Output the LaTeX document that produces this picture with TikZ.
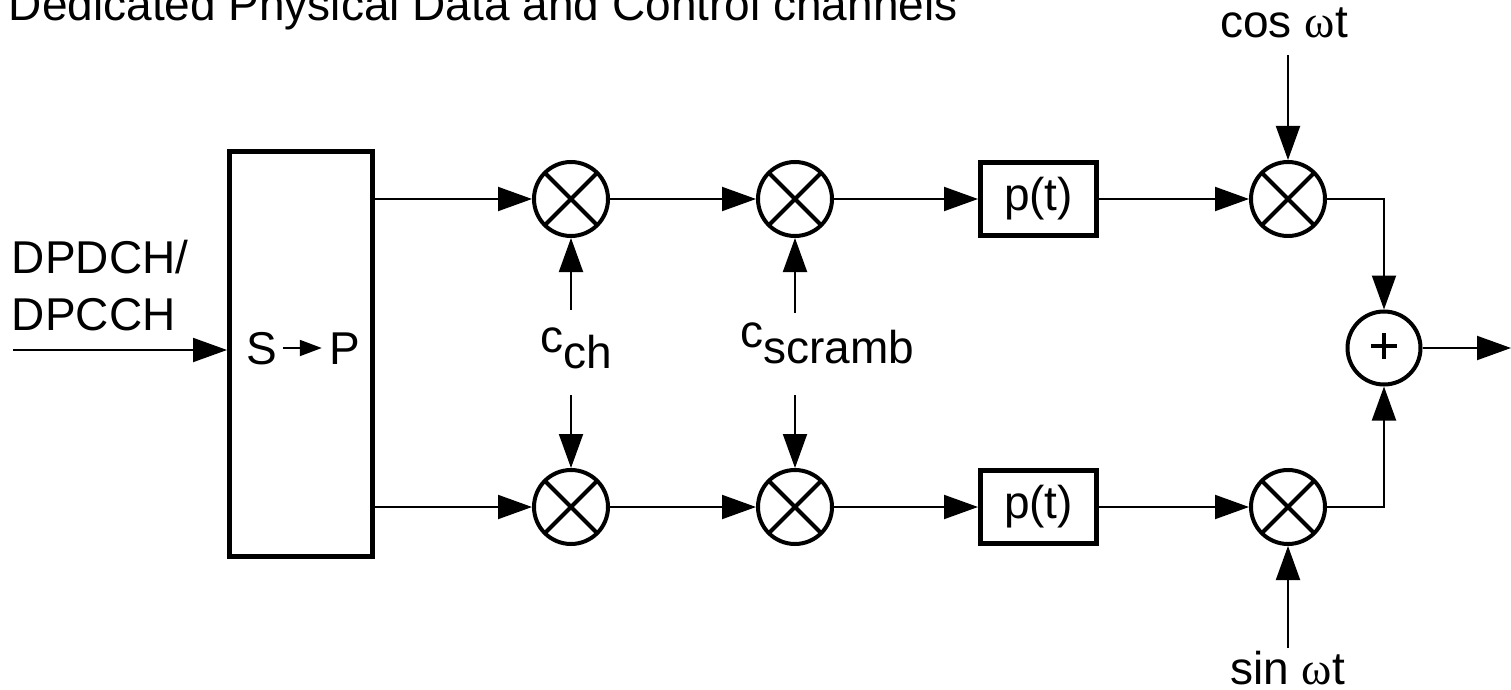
\documentclass[tikz,border=0pt]{standalone}
\usepackage{fontspec}
\setmainfont{Liberation Sans}
\newfontfamily\grkfont{Liberation Serif}
\usetikzlibrary{arrows.meta}
\begin{document}
\begin{tikzpicture}[x=0.5pt,y=-0.5pt,
  font=\fontsize{23}{28.5}\selectfont,
  arr/.style={line width=1pt,-{Triangle[length=17pt,width=12pt]}},
  smallarr/.style={line width=1pt,-{Triangle[length=11pt,width=8pt]}},
  mult/.style={circle,draw,line width=2pt,minimum size=37pt,inner sep=0pt,
    path picture={\draw[line width=2pt]
      (path picture bounding box.north west) -- (path picture bounding box.south east)
      (path picture bounding box.north east) -- (path picture bounding box.south west);}},
  summer/.style={circle,draw,line width=2pt,minimum size=36.5pt,inner sep=0pt,
    path picture={\draw[line width=1.6pt]
      ([xshift=-6.5pt,yshift=1pt]path picture bounding box.center) -- ([xshift=6.5pt,yshift=1pt]path picture bounding box.center)
      ([yshift=7.5pt]path picture bounding box.center) -- ([yshift=-5.5pt]path picture bounding box.center);}},
  pbox/.style={draw,line width=2.5pt,minimum width=58pt,minimum height=36.5pt,inner sep=0pt},
  spbox/.style={draw,line width=2.5pt,minimum width=71.5pt,minimum height=202pt,inner sep=0pt},
  txt/.style={inner sep=0pt}
]
\useasboundingbox (0,0) rectangle (1511,690);

% title
\node[txt,anchor=base west] (title) at (8.5,21) {Dedicated Physical Data and Control channels};

% input label
\node[txt,anchor=north west,align=left] (inlab) at (11.5,240) {DPDCH/\\DPCCH};

% S->P box
\node[spbox] (sp) at (301,354) {};
\node[txt,anchor=base] (S) at (261.5,364) {S};
\node[txt,anchor=base] (P) at (344.5,364) {P};
\draw[smallarr,shorten <=3pt,shorten >=3.5pt] (S.east |- 0,348) -- (P.west |- 0,348);

% multipliers
\node[mult] (m1) at (571,199) {};
\node[mult] (m2) at (795,199) {};
\node[mult] (m4) at (571,507) {};
\node[mult] (m5) at (795,507) {};
\node[mult] (m3) at (1288,199) {};
\node[mult] (m6) at (1288,507) {};

% pulse shaping
\node[pbox] (p1) at (1038.5,199) {p(t)};
\node[pbox] (p2) at (1038.5,507) {p(t)};

% summer
\node[summer] (sum) at (1384,348) {};

% labels
\node[txt,anchor=base west] (cch) at (540,352) {c\raisebox{-8pt}{ch}};
\node[txt,anchor=base west] (csc) at (740,347) {c\raisebox{-8pt}{scramb}};
\node[txt,anchor=base west] (cos) at (1220,38) {cos {\grkfont ω}t};
\node[txt,anchor=base west] (sin) at (1230,684) {sin {\grkfont ω}t};

% coordinates
\coordinate (inp) at (13,350);
\coordinate (cha) at (571,310);
\coordinate (chb) at (571,395);
\coordinate (sca) at (795,313);
\coordinate (scb) at (795,395);
\coordinate (cosa) at (1288,55);
\coordinate (sina) at (1288,648);
\coordinate (out) at (1511,348);

% connectors
\draw[arr] (inp) -- (inp -| sp.west);
\draw[arr] (sp.east |- m1.west) -- (m1.west);
\draw[arr] (sp.east |- m4.west) -- (m4.west);
\draw[arr] (m1.east) -- (m2.west);
\draw[arr] (m4.east) -- (m5.west);
\draw[arr] (m2.east) -- (p1.west);
\draw[arr] (m5.east) -- (p2.west);
\draw[arr] (p1.east) -- (m3.west);
\draw[arr] (p2.east) -- (m6.west);
\draw[arr] (cha) -- (m1.south);
\draw[arr] (chb) -- (m4.north);
\draw[arr] (sca) -- (m2.south);
\draw[arr] (scb) -- (m5.north);
\draw[arr] (cosa) -- (m3.north);
\draw[arr] (sina) -- (m6.south);
\draw[arr] (m3.east) -| (sum.north);
\draw[arr] (m6.east) -| (sum.south);
\draw[arr] (sum.east) -- (out);
\end{tikzpicture}
\end{document}
